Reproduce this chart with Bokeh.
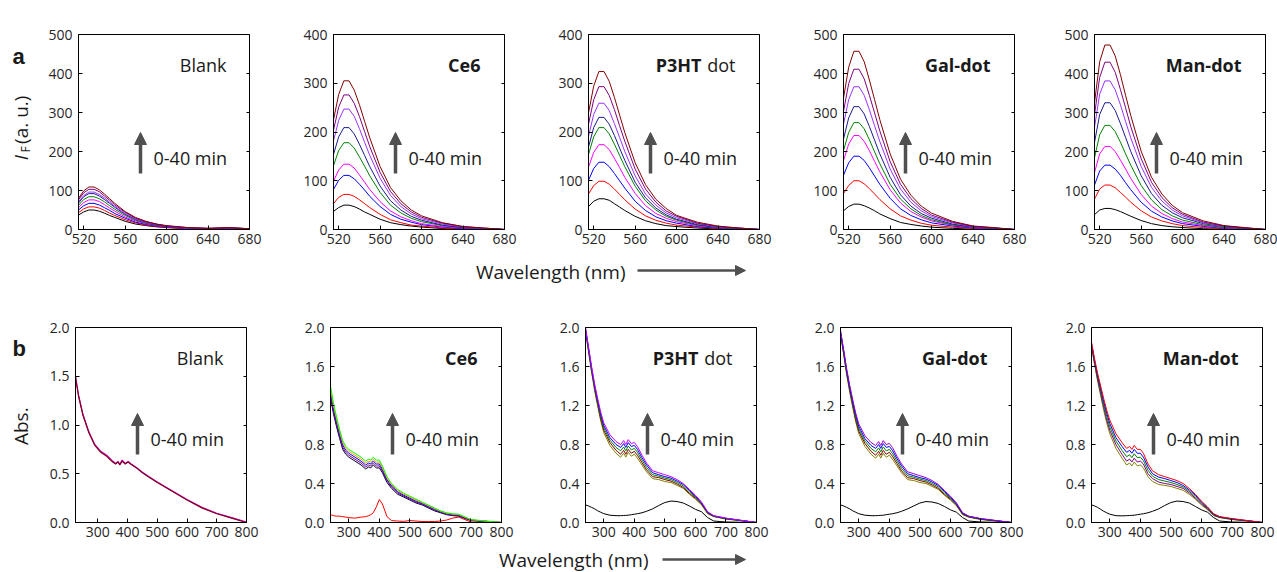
from math import pi
from bokeh.plotting import figure
from bokeh.models import (Range1d, LinearAxis, Label, Arrow, NormalHead,
                          FixedTicker, PrintfTickFormatter)
from bokeh.layouts import column, row
from bokeh.embed import file_html
from bokeh.resources import INLINE

FONT = "Open Sans"
FW, FH = 171, 195
ARROW_C = "#505050"
TXT_C = "#1a1a1a"

# ---------------- DATA: fluorescence (row a) ----------------
wl_fl = [515, 520, 525, 530, 535, 540, 545, 550, 560, 570, 580, 590, 600, 620, 640, 660, 680]
fl_colors = ["#000000", "#FF0000", "#0000FF", "#FF00FF", "#008000",
             "#1a1a8c", "#9933FF", "#7F007F", "#800000"]

fl_blank = [
    [37, 45, 50, 50, 47, 42, 36, 31, 21, 14, 10, 7, 5, 2, 1, 2, 1],
    [43, 53, 58, 58, 55, 49, 42, 36, 25, 17, 11, 8, 5, 3, 2, 3, 1],
    [50, 61, 67, 67, 63, 56, 49, 41, 29, 19, 13, 9, 6, 3, 2, 3, 1],
    [56, 69, 76, 76, 72, 64, 55, 47, 32, 22, 15, 10, 7, 3, 2, 3, 2],
    [62, 77, 84, 84, 79, 71, 61, 52, 36, 24, 16, 11, 8, 4, 2, 4, 2],
    [68, 84, 92, 92, 86, 77, 67, 57, 39, 26, 18, 12, 8, 4, 2, 4, 2],
    [71, 87, 96, 96, 90, 81, 70, 59, 41, 27, 18, 13, 9, 4, 3, 4, 2],
    [76, 94, 103, 103, 97, 86, 75, 63, 44, 29, 20, 14, 9, 5, 3, 4, 2],
    [80, 99, 109, 109, 102, 91, 79, 67, 46, 31, 21, 14, 10, 5, 3, 5, 2],
]
fl_ce6 = [
    [37, 45, 50, 50, 47, 42, 36, 31, 21, 14, 10, 7, 5, 2, 1, 1, 0],
    [53, 66, 72, 72, 68, 61, 53, 45, 31, 20, 14, 9, 7, 3, 1, 1, 0],
    [82, 101, 111, 111, 104, 93, 81, 68, 47, 31, 21, 15, 10, 5, 2, 1, 0],
    [99, 122, 134, 134, 126, 112, 97, 82, 57, 38, 26, 18, 12, 6, 3, 1, 0],
    [131, 162, 178, 178, 167, 149, 130, 110, 76, 50, 34, 23, 16, 8, 4, 2, 0],
    [154, 190, 209, 209, 196, 175, 152, 129, 89, 59, 40, 27, 19, 9, 4, 2, 0],
    [182, 224, 247, 247, 232, 207, 179, 152, 105, 70, 47, 32, 22, 11, 5, 2, 0],
    [204, 251, 276, 276, 259, 232, 201, 170, 117, 78, 53, 36, 25, 13, 6, 3, 0],
    [225, 277, 305, 305, 286, 256, 222, 188, 129, 86, 59, 40, 28, 14, 6, 3, 0],
]
fl_p3ht = [
    [47, 58, 63, 63, 60, 53, 46, 39, 27, 18, 12, 8, 6, 3, 1, 1, 0],
    [73, 90, 99, 99, 93, 83, 72, 61, 42, 28, 19, 13, 9, 5, 2, 1, 0],
    [101, 125, 138, 138, 129, 115, 100, 85, 58, 39, 26, 18, 13, 6, 3, 1, 0],
    [128, 158, 174, 174, 164, 146, 127, 107, 74, 49, 33, 23, 16, 8, 4, 2, 0],
    [154, 190, 209, 209, 196, 175, 152, 129, 89, 59, 40, 27, 19, 9, 4, 2, 0],
    [169, 209, 230, 230, 216, 193, 167, 142, 97, 65, 44, 30, 21, 10, 5, 2, 0],
    [191, 236, 259, 259, 244, 217, 189, 160, 110, 73, 50, 34, 24, 12, 5, 3, 0],
    [216, 266, 293, 293, 275, 246, 213, 181, 124, 83, 56, 38, 27, 13, 6, 3, 0],
    [239, 294, 324, 324, 304, 271, 235, 199, 137, 92, 62, 43, 29, 15, 7, 3, 0],
]
fl_gal = [
    [48, 59, 65, 65, 61, 55, 48, 40, 28, 18, 13, 9, 6, 3, 1, 1, 0],
    [92, 113, 125, 125, 117, 105, 91, 77, 53, 35, 24, 16, 11, 6, 3, 1, 0],
    [139, 171, 188, 188, 177, 158, 137, 116, 80, 53, 36, 25, 17, 9, 4, 2, 0],
    [177, 219, 241, 241, 226, 202, 175, 148, 102, 68, 46, 32, 22, 11, 5, 2, 0],
    [202, 249, 274, 274, 258, 230, 199, 169, 116, 78, 53, 36, 25, 12, 6, 3, 0],
    [232, 286, 315, 315, 296, 264, 229, 194, 134, 89, 60, 41, 29, 14, 6, 3, 0],
    [270, 333, 366, 366, 344, 307, 266, 226, 155, 104, 70, 48, 33, 17, 7, 4, 0],
    [303, 374, 411, 411, 386, 344, 299, 253, 174, 116, 79, 54, 37, 19, 8, 4, 0],
    [337, 416, 457, 457, 430, 383, 333, 282, 194, 129, 88, 60, 42, 21, 9, 5, 0],
]
fl_man = [
    [38, 50, 54, 54, 51, 46, 40, 34, 23, 15, 10, 7, 5, 2, 1, 1, 0],
    [78, 104, 114, 114, 107, 95, 83, 70, 48, 32, 22, 15, 10, 5, 2, 1, 0],
    [114, 150, 165, 165, 155, 139, 120, 102, 70, 47, 32, 22, 15, 8, 3, 2, 0],
    [146, 194, 213, 213, 200, 178, 155, 131, 90, 60, 41, 28, 19, 10, 4, 2, 0],
    [184, 243, 267, 267, 251, 224, 194, 165, 113, 76, 51, 35, 24, 12, 5, 3, 0],
    [223, 295, 325, 325, 305, 272, 236, 200, 138, 92, 62, 43, 30, 15, 7, 3, 0],
    [262, 347, 381, 381, 358, 320, 277, 235, 162, 108, 73, 50, 35, 17, 8, 4, 0],
    [294, 390, 429, 429, 403, 359, 312, 264, 182, 121, 82, 56, 39, 19, 9, 4, 0],
    [325, 430, 473, 473, 445, 397, 344, 292, 201, 134, 91, 62, 43, 22, 10, 5, 0],
]

# ---------------- DATA: absorbance (row b) ----------------
wl_abs_blank = [225, 235, 250, 270, 290, 310, 330, 350, 360, 368, 374, 382, 392,
                402, 410, 430, 450, 475, 500, 550, 600, 650, 700, 750, 800]
abs_blank = [
    [1.50, 1.31, 1.11, 0.93, 0.80, 0.73, 0.69, 0.63, 0.605, 0.625, 0.60, 0.64, 0.605,
     0.625, 0.605, 0.565, 0.515, 0.465, 0.415, 0.325, 0.235, 0.155, 0.095, 0.05, 0.005],
    [1.49, 1.30, 1.10, 0.92, 0.79, 0.72, 0.68, 0.62, 0.60, 0.62, 0.59, 0.63, 0.60,
     0.62, 0.60, 0.56, 0.51, 0.46, 0.41, 0.32, 0.23, 0.15, 0.09, 0.045, 0.0],
]
abs_blank_colors = ["#CC00CC", "#800020"]

wl_abs = [240, 250, 260, 270, 280, 290, 300, 320, 340, 355, 365, 372, 380, 390, 400,
          410, 425, 440, 460, 480, 500, 520, 540, 560, 580, 600, 620, 640, 660, 700, 800]

abs_ce6 = [  # bottom -> top
    [1.28, 1.11, 0.98, 0.86, 0.75, 0.70, 0.67, 0.63, 0.59, 0.55, 0.57, 0.56, 0.59, 0.56, 0.56,
     0.51, 0.41, 0.35, 0.29, 0.26, 0.23, 0.20, 0.18, 0.15, 0.12, 0.10, 0.08, 0.07, 0.065, 0.02, 0.0],
    [1.31, 1.14, 1.005, 0.88, 0.77, 0.72, 0.69, 0.65, 0.61, 0.57, 0.59, 0.58, 0.61, 0.58, 0.58,
     0.528, 0.425, 0.363, 0.303, 0.27, 0.24, 0.21, 0.188, 0.158, 0.128, 0.105, 0.085, 0.075, 0.07, 0.023, 0.0],
    [1.34, 1.165, 1.03, 0.905, 0.795, 0.74, 0.71, 0.67, 0.63, 0.59, 0.61, 0.60, 0.63, 0.60, 0.60,
     0.545, 0.44, 0.375, 0.315, 0.28, 0.25, 0.22, 0.195, 0.165, 0.135, 0.11, 0.09, 0.08, 0.075, 0.025, 0.0],
    [1.37, 1.195, 1.055, 0.93, 0.82, 0.76, 0.73, 0.69, 0.65, 0.61, 0.63, 0.62, 0.65, 0.62, 0.62,
     0.563, 0.455, 0.388, 0.328, 0.29, 0.26, 0.23, 0.203, 0.173, 0.143, 0.115, 0.095, 0.085, 0.08, 0.028, 0.0],
    [1.40, 1.22, 1.08, 0.95, 0.84, 0.78, 0.75, 0.71, 0.67, 0.63, 0.65, 0.64, 0.67, 0.64, 0.64,
     0.58, 0.47, 0.40, 0.34, 0.30, 0.27, 0.24, 0.21, 0.18, 0.15, 0.12, 0.10, 0.09, 0.085, 0.03, 0.0],
]
abs_ce6_colors = ["#000033", "#800080", "#0000FF", "#FF9900", "#00FF00"]
abs_ce6_free = [0.08, 0.07, 0.065, 0.065, 0.06, 0.055, 0.05, 0.045, 0.055, 0.06, 0.07, 0.08, 0.10,
                0.16, 0.235, 0.19, 0.06, 0.02, 0.015, 0.012, 0.02, 0.015, 0.01, 0.01, 0.01, 0.015,
                0.025, 0.045, 0.055, 0.005, 0.0]

abs_p3ht = [  # bottom -> top
    [1.96, 1.75, 1.54, 1.35, 1.19, 1.04, 0.92, 0.79, 0.71, 0.67, 0.71, 0.67, 0.72, 0.68, 0.70,
     0.66, 0.59, 0.52, 0.45, 0.44, 0.42, 0.41, 0.38, 0.35, 0.29, 0.24, 0.18, 0.09, 0.06, 0.035, 0.0],
    [1.97, 1.76, 1.555, 1.37, 1.21, 1.06, 0.945, 0.82, 0.74, 0.70, 0.74, 0.70, 0.75, 0.71, 0.73,
     0.69, 0.615, 0.54, 0.47, 0.46, 0.44, 0.425, 0.395, 0.36, 0.30, 0.25, 0.19, 0.095, 0.063, 0.038, 0.0],
    [1.98, 1.775, 1.57, 1.385, 1.23, 1.085, 0.97, 0.845, 0.77, 0.735, 0.775, 0.735, 0.785, 0.745, 0.76,
     0.72, 0.64, 0.565, 0.49, 0.475, 0.455, 0.44, 0.41, 0.375, 0.315, 0.26, 0.195, 0.10, 0.065, 0.04, 0.0],
    [1.99, 1.79, 1.585, 1.40, 1.25, 1.11, 0.995, 0.87, 0.80, 0.77, 0.81, 0.77, 0.82, 0.78, 0.79,
     0.75, 0.665, 0.59, 0.51, 0.49, 0.47, 0.455, 0.425, 0.39, 0.33, 0.27, 0.20, 0.105, 0.068, 0.043, 0.0],
    [2.00, 1.80, 1.60, 1.42, 1.27, 1.13, 1.02, 0.90, 0.83, 0.80, 0.84, 0.80, 0.85, 0.81, 0.82,
     0.78, 0.69, 0.61, 0.53, 0.51, 0.49, 0.47, 0.44, 0.40, 0.34, 0.28, 0.21, 0.11, 0.07, 0.045, 0.0],
]
abs_p3ht_colors = ["#808000", "#800000", "#008000", "#0000FF", "#CC00FF"]
abs_p3ht_black = [0.18, 0.17, 0.155, 0.14, 0.12, 0.105, 0.09, 0.075, 0.07, 0.07, 0.072, 0.073, 0.075,
                  0.08, 0.085, 0.09, 0.10, 0.115, 0.14, 0.175, 0.205, 0.22, 0.215, 0.20, 0.17, 0.135,
                  0.11, 0.05, 0.015, 0.005, 0.0]

abs_gal = [  # bottom -> top
    [1.93, 1.73, 1.52, 1.34, 1.18, 1.03, 0.91, 0.78, 0.70, 0.66, 0.70, 0.66, 0.71, 0.67, 0.69,
     0.65, 0.58, 0.51, 0.44, 0.43, 0.41, 0.40, 0.37, 0.34, 0.28, 0.23, 0.17, 0.08, 0.055, 0.03, 0.0],
    [1.94, 1.74, 1.535, 1.36, 1.20, 1.05, 0.935, 0.81, 0.73, 0.69, 0.73, 0.69, 0.74, 0.70, 0.72,
     0.68, 0.605, 0.53, 0.46, 0.45, 0.43, 0.415, 0.385, 0.35, 0.29, 0.24, 0.18, 0.085, 0.058, 0.033, 0.0],
    [1.95, 1.755, 1.55, 1.375, 1.22, 1.075, 0.96, 0.835, 0.76, 0.725, 0.765, 0.725, 0.775, 0.735, 0.75,
     0.71, 0.63, 0.555, 0.48, 0.465, 0.445, 0.43, 0.40, 0.365, 0.305, 0.25, 0.185, 0.09, 0.06, 0.035, 0.0],
    [1.96, 1.77, 1.565, 1.39, 1.24, 1.10, 0.985, 0.86, 0.79, 0.76, 0.80, 0.76, 0.81, 0.77, 0.78,
     0.74, 0.655, 0.58, 0.50, 0.48, 0.46, 0.445, 0.415, 0.38, 0.32, 0.26, 0.19, 0.095, 0.063, 0.038, 0.0],
    [1.97, 1.78, 1.58, 1.41, 1.26, 1.12, 1.01, 0.89, 0.82, 0.79, 0.83, 0.79, 0.84, 0.80, 0.81,
     0.77, 0.68, 0.60, 0.52, 0.50, 0.48, 0.46, 0.43, 0.39, 0.33, 0.27, 0.20, 0.10, 0.065, 0.04, 0.0],
]
abs_gal_colors = ["#808000", "#800000", "#008000", "#0000FF", "#9900CC"]
abs_gal_black = [0.18, 0.17, 0.155, 0.14, 0.12, 0.105, 0.09, 0.075, 0.07, 0.07, 0.072, 0.073, 0.075,
                 0.08, 0.085, 0.09, 0.10, 0.115, 0.14, 0.17, 0.20, 0.215, 0.21, 0.195, 0.165, 0.13,
                 0.105, 0.05, 0.015, 0.005, 0.0]

abs_man = [  # bottom -> top
    [1.80, 1.62, 1.45, 1.30, 1.15, 1.02, 0.91, 0.76, 0.66, 0.59, 0.61, 0.58, 0.62, 0.58, 0.59,
     0.56, 0.47, 0.42, 0.39, 0.38, 0.37, 0.35, 0.33, 0.29, 0.24, 0.18, 0.13, 0.07, 0.05, 0.03, 0.0],
    [1.81, 1.635, 1.47, 1.325, 1.18, 1.05, 0.945, 0.80, 0.70, 0.63, 0.65, 0.62, 0.66, 0.62, 0.63,
     0.60, 0.50, 0.45, 0.415, 0.40, 0.39, 0.37, 0.35, 0.305, 0.25, 0.19, 0.138, 0.075, 0.053, 0.033, 0.0],
    [1.825, 1.65, 1.49, 1.35, 1.21, 1.085, 0.98, 0.835, 0.74, 0.675, 0.695, 0.665, 0.705, 0.665, 0.67,
     0.635, 0.535, 0.475, 0.44, 0.425, 0.41, 0.39, 0.365, 0.32, 0.265, 0.20, 0.145, 0.08, 0.055, 0.035, 0.0],
    [1.84, 1.665, 1.51, 1.375, 1.24, 1.12, 1.015, 0.87, 0.78, 0.72, 0.74, 0.71, 0.75, 0.71, 0.71,
     0.67, 0.57, 0.50, 0.465, 0.45, 0.43, 0.41, 0.38, 0.335, 0.28, 0.21, 0.153, 0.085, 0.058, 0.038, 0.0],
    [1.85, 1.68, 1.53, 1.40, 1.27, 1.15, 1.05, 0.91, 0.82, 0.76, 0.78, 0.75, 0.79, 0.75, 0.75,
     0.71, 0.60, 0.53, 0.49, 0.47, 0.45, 0.43, 0.40, 0.35, 0.29, 0.22, 0.16, 0.09, 0.06, 0.04, 0.0],
]
abs_man_colors = ["#808000", "#800080", "#008000", "#0000FF", "#FF0000"]
abs_man_black = [0.18, 0.17, 0.155, 0.135, 0.115, 0.10, 0.085, 0.07, 0.068, 0.07, 0.072, 0.073, 0.075,
                 0.08, 0.085, 0.09, 0.10, 0.115, 0.14, 0.175, 0.205, 0.22, 0.215, 0.20, 0.165, 0.13,
                 0.105, 0.05, 0.015, 0.005, 0.0]

fl_ticks_x = [520, 560, 600, 640, 680]
abs_ticks_x = [300, 400, 500, 600, 700, 800]


# ---------------- helpers ----------------
def style_axis(ax, standoff):
    ax.major_tick_in = 4
    ax.major_tick_out = 0
    ax.minor_tick_line_color = None
    ax.axis_line_color = "black"
    ax.major_tick_line_color = "black"
    ax.major_label_text_font = FONT
    ax.major_label_text_font_size = "14px"
    ax.major_label_text_color = "#262626"
    ax.major_label_standoff = standoff


def make_panel(xr, yr, xt, yt, lb, rb, top, yfmt=None):
    p = figure(frame_width=FW, frame_height=FH, x_range=Range1d(*xr), y_range=Range1d(*yr),
               output_backend="svg", toolbar_location=None,
               min_border_left=lb, min_border_right=rb, min_border_top=top, min_border_bottom=24,
               background_fill_color="white", border_fill_color="white")
    p.grid.visible = False
    p.outline_line_color = "black"
    p.outline_line_width = 1
    p.xaxis[0].ticker = FixedTicker(ticks=xt)
    p.yaxis[0].ticker = FixedTicker(ticks=yt)
    if yfmt:
        p.yaxis[0].formatter = PrintfTickFormatter(format=yfmt)
    style_axis(p.xaxis[0], 4)
    style_axis(p.yaxis[0], 6)
    ra = LinearAxis(ticker=FixedTicker(ticks=yt), major_label_text_font_size="0px",
                    major_label_text_color=None,
                    major_tick_in=3, major_tick_out=0, minor_tick_line_color=None,
                    axis_line_color=None, major_tick_line_color="black",
                    major_label_standoff=0)
    p.add_layout(ra, "right")
    return p


def lab(p, x, y, text, size="18px", style="normal", align="left",
        baseline="middle", angle=0.0, font=FONT, units="screen"):
    p.add_layout(Label(x=x, y=y, x_units=units, y_units=units, text=text,
                       text_font=font, text_font_size=size, text_font_style=style,
                       text_align=align, text_baseline=baseline, angle=angle,
                       text_color=TXT_C))


def decorate(p, title_parts, arrow_y0, arrow_y1, text_y):
    for text, style, xr in title_parts:
        lab(p, xr, 165, text, style=style, align="right")
    p.add_layout(Arrow(end=NormalHead(size=12, fill_color=ARROW_C, line_color=ARROW_C),
                       x_start=62, y_start=arrow_y0, x_end=62, y_end=arrow_y1,
                       start_units="screen", end_units="screen",
                       line_color=ARROW_C, line_width=3.5))
    lab(p, 75, text_y, "0-40 min")


def blank_fig(w, h):
    s = figure(width=w, height=h, x_range=Range1d(0, w), y_range=Range1d(0, h),
               x_axis_location=None, y_axis_location=None, min_border=0,
               outline_line_color=None, output_backend="svg", toolbar_location=None,
               background_fill_color="white", border_fill_color="white")
    s.grid.visible = False
    return s


titles = [
    [("Blank", "normal", 148)],
    [("Ce6", "bold", 147)],
    [("P3HT", "bold", 113), ("dot", "normal", 147)],
    [("Gal-dot", "bold", 147)],
    [("Man-dot", "bold", 147)],
]
LABEL_W = 45
lbs = [30, 44, 44, 44, 44]
rbs = [40, 40, 40, 36, 15]
TOTAL_W = LABEL_W + sum(l + FW + r for l, r in zip(lbs, rbs))

# ---------------- row a ----------------
ROW_A_TOP = 34
ROW_A_H = ROW_A_TOP + FH + 24
fl_sets = [fl_blank, fl_ce6, fl_p3ht, fl_gal, fl_man]
fl_ymax = [500, 400, 400, 500, 500]
row_a = []
for i in range(5):
    ymax = fl_ymax[i]
    p = make_panel((515, 680), (0, ymax), fl_ticks_x, list(range(0, ymax + 1, 100)),
                   lbs[i], rbs[i], ROW_A_TOP)
    for vals, c in zip(fl_sets[i], fl_colors):
        p.line(wl_fl, vals, line_color=c, line_width=1)
    decorate(p, titles[i], 56, 97, 72)
    row_a.append(p)

la = blank_fig(LABEL_W, ROW_A_H)
lab(la, 12, ROW_A_H - 28, "a", size="22px", style="bold", baseline="alphabetic",
    font="Liberation Sans", units="data")
lab(la, 20, ROW_A_H - 163, "I", size="19px", style="italic", angle=pi / 2, units="data")
lab(la, 25, ROW_A_H - 153, "F", size="12px", angle=pi / 2, units="data")
lab(la, 20, ROW_A_H - 142, "(a. u.)", size="19px", angle=pi / 2, units="data")

# ---------------- row b ----------------
ROW_B_TOP = 26
ROW_B_H = ROW_B_TOP + FH + 24
row_b = []
q = make_panel((225, 800), (0, 2.0), abs_ticks_x, [0.0, 0.5, 1.0, 1.5, 2.0],
               lbs[0], rbs[0], ROW_B_TOP, "%.1f")
for vals, c in zip(abs_blank, abs_blank_colors):
    q.line(wl_abs_blank, vals, line_color=c, line_width=1.2)
decorate(q, titles[0], 68, 109, 84)
row_b.append(q)

abs_sets = [
    (abs_ce6, abs_ce6_colors, abs_ce6_free, "#FF0000"),
    (abs_p3ht, abs_p3ht_colors, abs_p3ht_black, "#000000"),
    (abs_gal, abs_gal_colors, abs_gal_black, "#000000"),
    (abs_man, abs_man_colors, abs_man_black, "#000000"),
]
yt_b = [0.0, 0.4, 0.8, 1.2, 1.6, 2.0]
for j, (bundle, cols, single, scol) in enumerate(abs_sets, start=1):
    q = make_panel((240, 800), (0, 2.0), abs_ticks_x, yt_b, lbs[j], rbs[j], ROW_B_TOP, "%.1f")
    q.line(wl_abs, single, line_color=scol, line_width=1)
    for vals, c in zip(bundle, cols):
        q.line(wl_abs, vals, line_color=c, line_width=1)
    decorate(q, titles[j], 68, 109, 84)
    row_b.append(q)

lb_fig = blank_fig(LABEL_W, ROW_B_H)
lab(lb_fig, 12, ROW_B_H - 26, "b", size="22px", style="bold", baseline="alphabetic",
    font="Liberation Sans", units="data")
lab(lb_fig, 20, ROW_B_H - 124, "Abs.", size="19px", align="center", angle=pi / 2, units="data")


# ---------------- strips with the wavelength captions ----------------
def strip(h, text_right, text_y, ax0, ax1, ay):
    s = blank_fig(TOTAL_W, h)
    s.add_layout(Label(x=text_right, y=text_y, text="Wavelength (nm)", text_font=FONT,
                       text_font_size="19px", text_align="right", text_baseline="middle",
                       text_color=TXT_C))
    s.add_layout(Arrow(end=NormalHead(size=10, fill_color=ARROW_C, line_color=ARROW_C),
                       x_start=ax0, y_start=ay, x_end=ax1, y_end=ay,
                       line_color=ARROW_C, line_width=2.5))
    return s


STRIP_A_H = 301 - ROW_A_H
strip_a = strip(STRIP_A_H, 625, STRIP_A_H - (271 - ROW_A_H), 637, 745, STRIP_A_H - (270 - ROW_A_H))
STRIP_B_H = 572 - (301 + ROW_B_H)
yb = STRIP_B_H - (559 - 301 - ROW_B_H)
strip_b = strip(STRIP_B_H, 648, yb, 662, 745, yb)

layout = column(row(la, *row_a), strip_a, row(lb_fig, *row_b), strip_b)

open("out.html", "w").write(file_html(layout, INLINE))
